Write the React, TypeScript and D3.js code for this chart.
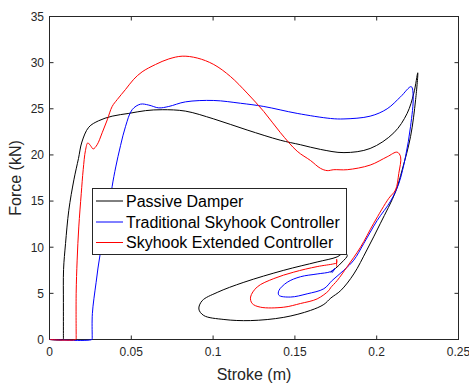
import React from "react";
import * as d3 from "d3";

const xTicks = [0, 0.05, 0.1, 0.15, 0.2, 0.25];
const xTickLabels = ["0", "0.05", "0.1", "0.15", "0.2", "0.25"];
const yTicks = [0, 5, 10, 15, 20, 25, 30, 35];

const seriesNames = ["Passive Damper", "Traditional Skyhook Controller", "Skyhook Extended Controller"];
const seriesColors = ["#000000", "#0000ff", "#ff0000"];

// Passive Damper: [stroke (m), force (kN)]
const passive: [number, number][] = [
  [0, 0], [0.0083, 0], [0.0085, 0.15], [0.0085, 0.4], [0.0085, 4.0], [0.0086, 7.6], [0.0098, 10.4],
  [0.0118, 14.0], [0.0149, 17.3], [0.0177, 19.6],
  [0.0198, 21.4], [0.024, 23.0], [0.03, 23.7], [0.0383, 24.2], [0.0485, 24.5], [0.0587, 24.8],
  [0.0689, 24.9], [0.083, 24.75], [0.1004, 23.9], [0.1208, 22.7], [0.141, 21.6], [0.1535, 21.1],
  [0.1656, 20.6], [0.18, 20.25], [0.196, 20.7], [0.2105, 22.4], [0.2186, 24.5], [0.2227, 26.7],
  [0.2251, 28.9], [0.2238, 26.0], [0.2207, 22.0], [0.2156, 18.4], [0.2115, 16.0], [0.2023, 12.6],
  [0.194, 9.7], [0.186, 7.1], [0.178, 5.3], [0.172, 4.5], [0.1677, 3.8], [0.1595, 3.15],
  [0.1432, 2.4], [0.1229, 2.05], [0.1066, 2.17], [0.0943, 2.6], [0.0913, 3.3], [0.0933, 4.2],
  [0.1025, 5.1], [0.1188, 6.2], [0.1432, 7.5], [0.1636, 8.4], [0.1758, 8.95], [0.18, 9.4],
  [0.182, 9.1], [0.1789, 8.4], [0.1748, 7.7], [0.1718, 7.3],
];

// Traditional Skyhook Controller
const skyhook: [number, number][] = [
  [0, 0], [0.0259, 0], [0.0261, 0.15], [0.0261, 0.4], [0.0262, 2.8], [0.0285, 6.2], [0.031, 9.3],
  [0.0353, 12.9], [0.0383, 16.6],
  [0.0405, 18.7], [0.0434, 21.0], [0.0465, 23.1], [0.0505, 24.9], [0.0556, 25.5], [0.0607, 25.4],
  [0.0668, 25.1], [0.0729, 25.25], [0.0831, 25.75], [0.1004, 25.9], [0.1167, 25.6], [0.131, 25.25],
  [0.1514, 24.5], [0.1718, 23.95], [0.18, 23.9], [0.196, 24.2], [0.2064, 25.0], [0.2146, 26.3],
  [0.2211, 27.4], [0.2223, 26.3], [0.2207, 23.1], [0.2176, 19.8], [0.2135, 16.9], [0.2085, 15.0],
  [0.2003, 12.9], [0.1921, 10.4], [0.186, 8.6], [0.1799, 7.5], [0.1728, 6.4], [0.1677, 5.5],
  [0.1575, 4.95], [0.1473, 4.6], [0.1402, 4.8], [0.1402, 5.3], [0.1453, 6.2], [0.1534, 6.8],
  [0.1636, 7.1], [0.1718, 7.35], [0.1745, 7.7], [0.1725, 7.2],
];

// Skyhook Extended Controller
const extended: [number, number][] = [
  [0, 0], [0.0161, 0], [0.0163, 0.15], [0.0163, 0.4], [0.0163, 5], [0.0169, 8.6], [0.0179, 12.2],
  [0.0194, 15.8], [0.0206, 18.4],
  [0.022, 20.5], [0.0234, 21.3], [0.0251, 21.0], [0.0267, 20.65], [0.0291, 21.1], [0.0322, 22.4],
  [0.0353, 23.8], [0.0383, 25.25], [0.0414, 26.0], [0.0465, 27.1], [0.0515, 28.2], [0.0566, 29.0],
  [0.0648, 29.8], [0.0729, 30.4], [0.0811, 30.7], [0.0903, 30.5], [0.1004, 29.8], [0.1106, 28.5],
  [0.1208, 26.7], [0.131, 24.7], [0.1412, 22.4], [0.1514, 20.4], [0.1595, 19.4], [0.1656, 18.55],
  [0.1697, 18.3], [0.1738, 18.4], [0.182, 18.4], [0.196, 18.9], [0.2064, 19.8], [0.2125, 20.3],
  [0.2146, 19.8], [0.2135, 18.0], [0.2115, 16.2], [0.2074, 15.3], [0.1982, 12.6], [0.1901, 10.0],
  [0.182, 7.9], [0.1759, 6.4], [0.1718, 5.6], [0.1707, 5.3], [0.1636, 4.4], [0.1534, 3.9],
  [0.1432, 3.5], [0.129, 3.5], [0.1239, 3.9], [0.1229, 4.6], [0.127, 5.7], [0.1371, 6.6],
  [0.1493, 7.3], [0.1636, 7.9], [0.1738, 8.2], [0.1755, 8.3], [0.1755, 8.7], [0.1755, 7.9],
];

const allSeries = [passive, skyhook, extended];

const W = 469;
const H = 383;
const FONT = "'Liberation Sans', Arial, Helvetica, sans-serif";
const AX = "#262626";

export default function App() {
  const x = d3.scaleLinear().domain([0, 0.25]).range([49.5, 458.5]);
  const y = d3.scaleLinear().domain([0, 35]).range([339.5, 16.5]);
  const line = d3
    .line<[number, number]>()
    .x((d) => x(d[0]))
    .y((d) => y(d[1]))
    .curve(d3.curveCatmullRom.alpha(0.5));

  const [x0, x1] = x.range();
  const [y0, y1] = y.range();
  const tl = 4;

  const legX = 92.5, legY = 188.5, legW = 254, legH = 66;
  const rowY = [201, 222, 242.5];

  return (
    <svg
      width={W}
      height={H}
      viewBox={`0 0 ${W} ${H}`}
      style={{ position: "fixed", left: 0, top: 0, background: "#fff" }}
      fontFamily={FONT}
    >
      <rect x={0} y={0} width={W} height={H} fill="#fff" />
      {/* axes box */}
      <rect x={x0} y={y1} width={x1 - x0} height={y0 - y1} fill="none" stroke={AX} strokeWidth={1} />
      {xTicks.map((t, i) => (
        <g key={"xt" + i}>
          <line x1={x(t)} x2={x(t)} y1={y0} y2={y0 - tl} stroke={AX} />
          <line x1={x(t)} x2={x(t)} y1={y1} y2={y1 + tl} stroke={AX} />
          <text x={x(t)} y={356} textAnchor="middle" fontSize={12} fill={AX}>
            {xTickLabels[i]}
          </text>
        </g>
      ))}
      {yTicks.map((t, i) => (
        <g key={"yt" + i}>
          <line x1={x0} x2={x0 + tl} y1={y(t)} y2={y(t)} stroke={AX} />
          <line x1={x1} x2={x1 - tl} y1={y(t)} y2={y(t)} stroke={AX} />
          <text x={44} y={y(t) + 4.3} textAnchor="end" fontSize={12} fill={AX}>
            {t}
          </text>
        </g>
      ))}
      <text x={(x0 + x1) / 2} y={380} textAnchor="middle" fontSize={16} fill={AX}>
        Stroke (m)
      </text>
      <text transform={`translate(21,${(y0 + y1) / 2}) rotate(-90)`} textAnchor="middle" fontSize={16} fill={AX}>
        Force (kN)
      </text>
      {/* data */}
      {allSeries.map((s, i) => (
        <path key={"s" + i} d={line(s) || ""} fill="none" stroke={seriesColors[i]} strokeWidth={1} strokeLinejoin="round" />
      ))}
      {/* legend */}
      <rect x={legX} y={legY} width={legW} height={legH} fill="#fff" stroke={AX} strokeWidth={1} />
      {seriesNames.map((n, i) => (
        <g key={"lg" + i}>
          <line x1={96} x2={123} y1={rowY[i]} y2={rowY[i]} stroke={seriesColors[i]} strokeWidth={1} />
          <text x={126} y={rowY[i] + 5.7} fontSize={16} fill="#000">
            {n}
          </text>
        </g>
      ))}
    </svg>
  );
}
